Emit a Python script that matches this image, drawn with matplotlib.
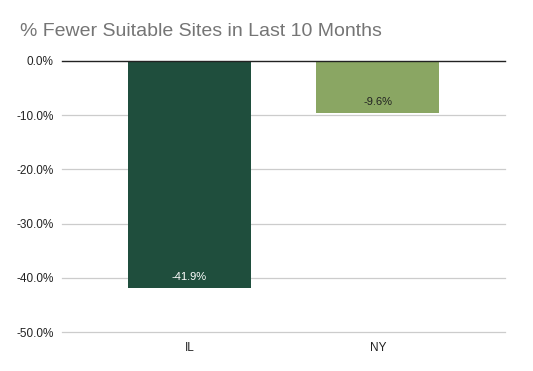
import matplotlib
matplotlib.use("Agg")
import matplotlib.pyplot as plt
from matplotlib.ticker import FuncFormatter

categories = ["IL", "NY"]
values = [-0.419, -0.096]
value_labels = ["-41.9%", "-9.6%"]
bar_colors = ["#1f4e3d", "#8aa663"]
label_colors = ["white", "#222222"]
yticks = [0.0, -0.1, -0.2, -0.3, -0.4, -0.5]
title = "% Fewer Suitable Sites in Last 10 Months"

plt.rcParams['font.family'] = ['Liberation Sans', 'DejaVu Sans']

fig = plt.figure(figsize=(5.33, 3.71), dpi=100)
ax = fig.add_axes([0.1163, 0.1051, 0.8312, 0.7305])

x = list(range(len(categories)))
bars = ax.bar(x, values, width=0.652, color=bar_colors, zorder=3)
ax.set_xlim(-0.676, 1.674)
ax.set_ylim(-0.5, 0.0)
ax.set_yticks(yticks)
ax.yaxis.set_major_formatter(FuncFormatter(lambda v, p: f"{v*100:.1f}%"))
ax.set_xticks(x)
ax.set_xticklabels(categories)
ax.tick_params(axis='both', length=0, labelsize=8.5, labelcolor="#222222")
ax.tick_params(axis='y', pad=6)
ax.tick_params(axis='x', pad=7)
for s in ax.spines.values():
    s.set_visible(False)
for t in yticks[1:]:
    ax.axhline(t, color="#cccccc", linewidth=0.9, zorder=0, clip_on=False)
ax.axhline(0, color="#222222", linewidth=1.0, zorder=4, clip_on=False)

for xi, v, lab, c in zip(x, values, value_labels, label_colors):
    ax.annotate(lab, (xi, v), xytext=(0, 11), textcoords="offset pixels",
                ha="center", va="center", fontsize=8, color=c, zorder=5)

fig.text(20/533, 1 - 31/371, title, fontsize=14, color="#757575",
         ha="left", va="center")

fig.savefig("out.png", dpi=100)
